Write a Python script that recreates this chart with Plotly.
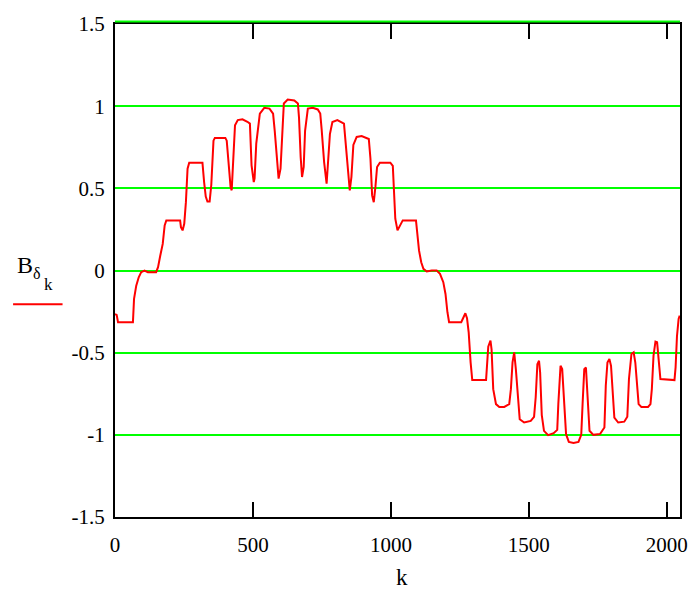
import plotly.graph_objects as go

# Air-gap flux density B_δ over sample index k (vertices of the stepped curve)
k_vals = [
    0, 6, 11, 65, 69, 77, 86, 95, 107, 119, 149, 156, 164, 173, 180, 186, 236, 239, 245, 251,
    257, 263, 269, 317, 323, 329, 335, 343, 349, 353, 357, 362, 400, 405, 412, 419, 423, 429,
    435, 445, 462, 480, 489, 495, 503, 506, 512, 525, 541, 560, 573, 579, 589, 593, 600, 606,
    612, 626, 650, 663, 667, 673, 678, 684, 689, 699, 717, 735, 744, 749, 758, 767, 771, 779,
    788, 806, 830, 836, 845, 851, 857, 864, 876, 894, 920, 926, 932, 938, 944, 950, 960, 998,
    1007, 1010, 1016, 1024, 1034, 1043, 1091, 1096, 1102, 1110, 1118, 1130, 1148, 1166, 1178,
    1190, 1198, 1205, 1211, 1255, 1264, 1270, 1276, 1282, 1289, 1295, 1345, 1349, 1353, 1361,
    1365, 1371, 1381, 1393, 1411, 1429, 1435, 1441, 1447, 1453, 1462, 1467, 1483, 1507, 1519,
    1525, 1531, 1537, 1541, 1547, 1555, 1570, 1590, 1603, 1607, 1615, 1621, 1627, 1635, 1645,
    1662, 1680, 1690, 1695, 1701, 1707, 1713, 1720, 1734, 1758, 1774, 1779, 1785, 1792, 1798,
    1804, 1810, 1824, 1846, 1857, 1863, 1872, 1880, 1886, 1892, 1898, 1908, 1932, 1941, 1946,
    1952, 1959, 1965, 1971, 1977, 2028, 2032, 2037, 2043, 2047,
]
b_vals = [
    -0.265, -0.27, -0.315, -0.315, -0.173, -0.092, -0.041, -0.01, 0.0, -0.01, -0.01, 0.02,
    0.09, 0.162, 0.274, 0.305, 0.305, 0.264, 0.244, 0.284, 0.416, 0.62, 0.656, 0.656, 0.538,
    0.45, 0.42, 0.42, 0.52, 0.7, 0.79, 0.807, 0.807, 0.79, 0.631, 0.508, 0.488, 0.69, 0.884,
    0.915, 0.92, 0.905, 0.894, 0.64, 0.538, 0.56, 0.772, 0.955, 0.99, 0.985, 0.955, 0.85,
    0.62, 0.559, 0.62, 0.85, 1.016, 1.04, 1.035, 1.016, 0.93, 0.69, 0.569, 0.63, 0.85, 0.985,
    0.99, 0.98, 0.955, 0.86, 0.66, 0.528, 0.62, 0.83, 0.904, 0.915, 0.894, 0.78, 0.56, 0.488,
    0.57, 0.764, 0.813, 0.818, 0.80, 0.68, 0.457, 0.416, 0.51, 0.63, 0.656, 0.656, 0.636,
    0.498, 0.315, 0.244, 0.28, 0.305, 0.305, 0.213, 0.122, 0.05, 0.01, -0.006, 0.0, 0.0,
    -0.02, -0.071, -0.143, -0.254, -0.315, -0.315, -0.275, -0.26, -0.29, -0.376, -0.559,
    -0.667, -0.667, -0.559, -0.464, -0.427, -0.48, -0.722, -0.813, -0.83, -0.83, -0.813,
    -0.722, -0.559, -0.498, -0.6, -0.84, -0.905, -0.925, -0.915, -0.89, -0.77, -0.57,
    -0.549, -0.62, -0.88, -0.976, -1.002, -0.99, -0.97, -0.81, -0.58, -0.6, -0.76, -0.996,
    -1.043, -1.05, -1.043, -1.0, -0.81, -0.6, -0.59, -0.74, -0.975, -1.0, -0.995, -0.955,
    -0.7, -0.56, -0.539, -0.58, -0.72, -0.895, -0.925, -0.92, -0.89, -0.66, -0.508, -0.498,
    -0.56, -0.71, -0.813, -0.83, -0.83, -0.813, -0.72, -0.518, -0.433, -0.437, -0.559,
    -0.661, -0.667, -0.59, -0.40, -0.295, -0.275,
]

x_ticks = [0, 500, 1000, 1500, 2000]
x_tick_text = ["0", "500", "1000", "1500", "2000"]
y_ticks = [-1.5, -1, -0.5, 0, 0.5, 1, 1.5]
y_tick_text = ["-1.5", "-1", "-0.5", "0", "0.5", "1", "1.5"]

FONT = "Liberation Serif"
W, H = 571.0, 498.0


def px(xp):
    return (xp - 115.0) / W


def py(yp):
    return (517.0 - yp) / H


fig = go.Figure()
fig.add_trace(go.Scatter(
    x=k_vals, y=b_vals, mode="lines",
    line=dict(color="#ff0000", width=2),
    showlegend=False, hoverinfo="skip",
))

fig.update_layout(
    width=700, height=592,
    margin=dict(l=115, r=14, t=19, b=75),
    plot_bgcolor="white", paper_bgcolor="white",
    font=dict(family=FONT, size=21, color="black"),
    xaxis=dict(
        range=[0, 2048], tickvals=x_ticks, ticktext=x_tick_text,
        showgrid=False, zeroline=False,
        showline=True, linecolor="black", linewidth=2, mirror="ticks",
        ticks="inside", ticklen=15, tickwidth=2, tickcolor="black",
        ticklabelstandoff=8,
        tickfont=dict(family=FONT, size=21, color="black"),
    ),
    yaxis=dict(
        range=[-1.5, 1.5], tickvals=y_ticks, ticktext=y_tick_text,
        showgrid=True, gridcolor="#00ff00", gridwidth=2, zeroline=False,
        showline=True, linecolor="black", linewidth=2, mirror=True,
        ticks="", ticklabelstandoff=4,
        tickfont=dict(family=FONT, size=21, color="black"),
    ),
)

# green grid line along the top edge, just above the frame
fig.add_shape(type="line", xref="paper", yref="paper",
              x0=0, x1=1, y0=py(16.5), y1=py(16.5),
              line=dict(color="#00ff00", width=2))

# y-axis label B_δ_k with its red line sample
fig.add_annotation(x=px(24), y=py(262), xref="paper", yref="paper", text="B",
                   showarrow=False, font=dict(family=FONT, size=24, color="black"),
                   xanchor="center", yanchor="middle")
fig.add_annotation(x=px(36.5), y=py(271), xref="paper", yref="paper", text="δ",
                   showarrow=False, font=dict(family=FONT, size=16, color="black"),
                   xanchor="center", yanchor="middle")
fig.add_annotation(x=px(47.5), y=py(282), xref="paper", yref="paper", text="k",
                   showarrow=False, font=dict(family=FONT, size=17, color="black"),
                   xanchor="center", yanchor="middle")
fig.add_shape(type="line", xref="paper", yref="paper",
              x0=px(12), x1=px(62), y0=py(302), y1=py(302),
              line=dict(color="#ff0000", width=2))

# x-axis title
fig.add_annotation(x=px(405), y=py(578), xref="paper", yref="paper", text="k",
                   showarrow=False, font=dict(family=FONT, size=23, color="black"),
                   xanchor="center", yanchor="middle")

fig.write_html("out.html")
